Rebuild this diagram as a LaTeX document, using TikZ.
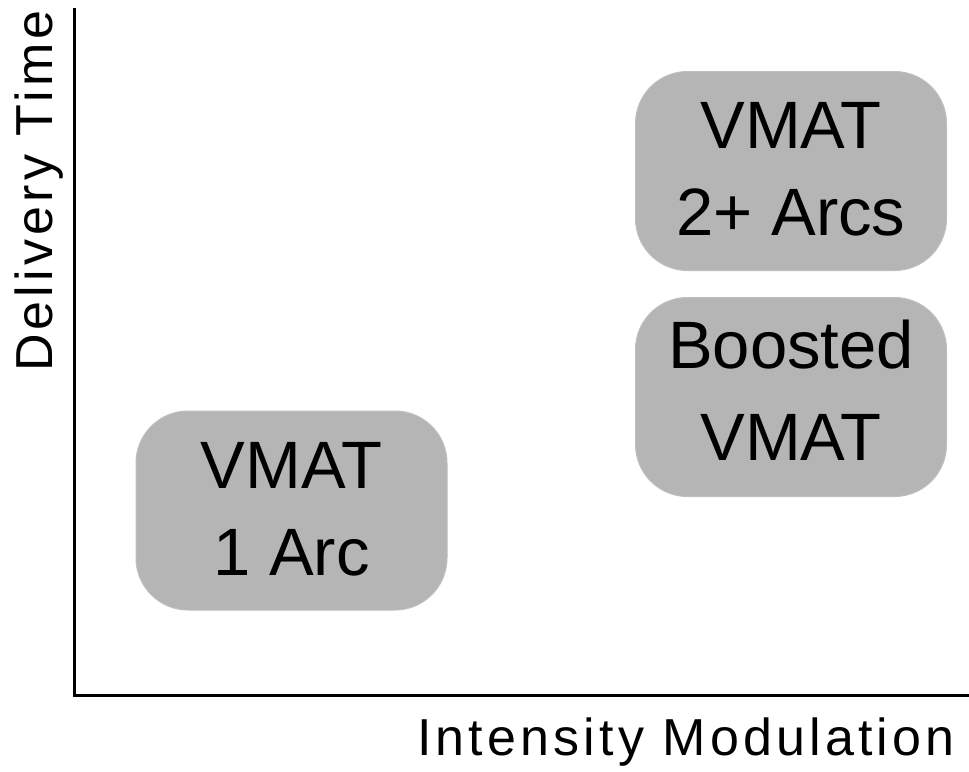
\documentclass[tikz,border=0pt]{standalone}
\usepackage{fontspec}
\setmainfont{Liberation Sans}
\begin{document}
\begin{tikzpicture}[x=1pt,y=-1pt,
  axis/.style={line width=3pt,black},
  boxnode/.style={draw=black!25,line width=1pt,fill=boxgray,rounded corners=52pt,
    minimum width=311pt,minimum height=199pt,inner sep=0pt},
  boxtext/.style={inner sep=0pt,align=center,font=\fontsize{67}{87}\selectfont},
  axislabel/.style={font=\fontsize{52}{62}\selectfont\addfontfeature{LetterSpace=8},inner sep=0pt,anchor=base}]
\definecolor{boxgray}{RGB}{181,181,181}
\useasboundingbox (0,0) rectangle (969,771);
\fill[white] (0,0) rectangle (969,771);
\coordinate (top) at (74,8);
\coordinate (origin) at (74,695);
\coordinate (right) at (969,695);
\draw[axis] (top) -- (origin) -- (right);
\node[boxnode] (b2) at (791,171) {};
\node[boxtext] (b2t) at (791,169) {VMAT\\2+ Arcs};
\node[boxnode] (bb) at (791,397) {};
\node[boxtext,font=\fontsize{67}{92}\selectfont] (bbt) at (791,390) {Boosted\\VMAT};
\node[boxnode] (b1) at (291.5,510.5) {};
\node[boxtext] (b1t) at (291.5,509) {VMAT\\1 Arc};
\node[axislabel,rotate=90] (ylab) at (52,191) {Delivery Time};
\node[axislabel] (xlab) at (686,755) {Intensity Modulation};
\end{tikzpicture}
\end{document}
